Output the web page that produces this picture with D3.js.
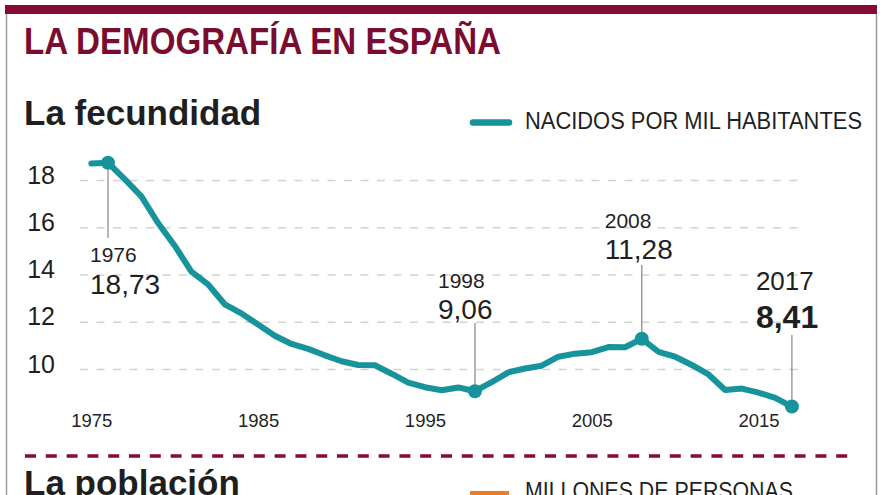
<!DOCTYPE html>
<html>
<head>
<meta charset="utf-8">
<script src="https://cdn.jsdelivr.net/npm/d3@7"></script>
<style>
  html, body { margin: 0; padding: 0; background: #fff; }
  svg { display: block; font-family: "Liberation Sans", Arial, Helvetica, sans-serif; }
</style>
</head>
<body>
<svg id="chart" width="880" height="495"></svg>
<script>
// ---- data ----
const years = d3.range(1975, 2018);
const birthRate = [18.70, 18.73, 18.04, 17.31, 16.18, 15.22, 14.12, 13.58, 12.74, 12.35,
                   11.88, 11.41, 11.06, 10.85, 10.58, 10.33, 10.17, 10.16, 9.80, 9.42,
                   9.23, 9.10, 9.22, 9.06, 9.44, 9.86, 10.02, 10.14, 10.52, 10.65,
                   10.71, 10.93, 10.92, 11.28, 10.73, 10.52, 10.17, 9.77, 9.11, 9.17,
                   9.00, 8.78, 8.41];
const yTicks = [10, 12, 14, 16, 18];
const xTicks = [1975, 1985, 1995, 2005, 2015];
const highlightYears = [1976, 1998, 2008, 2017];
const title = "LA DEMOGRAFÍA EN ESPAÑA";
const subtitle1 = "La fecundidad";
const subtitle2 = "La población";
const legend1 = "NACIDOS POR MIL HABITANTES";
const legend2 = "MILLONES DE PERSONAS";

// ---- styles ----
const TEAL = "#17949b";
const MAROON = "#850a35";
const TEXT = "#1f1f1f";

const svg = d3.select("#chart");
const data = years.map((yr, i) => ({ year: yr, value: birthRate[i] }));

const x = d3.scaleLinear().domain([1976, 2017]).range([108, 791.9]);
const y = d3.scaleLinear().domain([10, 18]).range([369, 180]);

// frame
svg.append("rect").attr("x", 5).attr("y", 5).attr("width", 872).attr("height", 9).attr("fill", MAROON);
svg.append("line").attr("x1", 6.5).attr("x2", 6.5).attr("y1", 14).attr("y2", 495)
   .attr("stroke", "#9a9a9a").attr("stroke-width", 1.5);
svg.append("line").attr("x1", 876.5).attr("x2", 876.5).attr("y1", 14).attr("y2", 495)
   .attr("stroke", "#9a9a9a").attr("stroke-width", 1.5);

// title
svg.append("text").attr("x", 24).attr("y", 54)
   .attr("font-size", 36).attr("font-weight", "bold").attr("fill", "#7a0c30")
   .attr("textLength", 477).attr("lengthAdjust", "spacingAndGlyphs")
   .text(title);

svg.append("text").attr("x", 24).attr("y", 125)
   .attr("font-size", 35).attr("font-weight", "bold").attr("fill", TEXT)
   .text(subtitle1);

// legend
svg.append("line").attr("x1", 473).attr("x2", 509).attr("y1", 122.5).attr("y2", 122.5)
   .attr("stroke", TEAL).attr("stroke-width", 6.5).attr("stroke-linecap", "round");
svg.append("text").attr("x", 525).attr("y", 129)
   .attr("font-size", 23).attr("fill", TEXT)
   .attr("textLength", 337).attr("lengthAdjust", "spacingAndGlyphs")
   .text(legend1);

// y axis with gridlines
const yAxis = svg.append("g").attr("transform", "translate(80,0)")
  .call(d3.axisLeft(y).tickValues(yTicks).tickSize(-725).tickPadding(25).tickFormat(d3.format("d")));
yAxis.select(".domain").remove();
yAxis.selectAll(".tick line")
  .attr("stroke", "#d2d2d2").attr("stroke-width", 1.6).attr("stroke-dasharray", "8,8.5");
yAxis.selectAll(".tick text")
  .attr("font-size", 25).attr("fill", TEXT).attr("dy", 3)
  .attr("font-family", "'Liberation Sans', Arial, sans-serif");

// x axis
const xAxis = svg.append("g").attr("transform", "translate(0,405)")
  .call(d3.axisBottom(x).tickValues(xTicks).tickSize(0).tickPadding(9).tickFormat(d3.format("d")));
xAxis.select(".domain").remove();
xAxis.selectAll(".tick text")
  .attr("font-size", 18.5).attr("fill", TEXT)
  .attr("font-family", "'Liberation Sans', Arial, sans-serif");

// line
const line = d3.line().x(d => x(d.year)).y(d => y(d.value));
svg.append("path").datum(data).attr("d", line)
   .attr("fill", "none").attr("stroke", TEAL).attr("stroke-width", 6)
   .attr("stroke-linejoin", "round").attr("stroke-linecap", "round");

// annotations (layout only)
const annoLayout = {
  1976: { dx: -18, yearY: 262, valY: 294, lineTop: null, lineBot: 238, yearSize: 21, valSize: 28, bold: false },
  1998: { dx: -37, yearY: 288, valY: 319, lineTop: 323, lineBot: null, yearSize: 21, valSize: 28, bold: false },
  2008: { dx: -37, yearY: 228, valY: 259, lineTop: 265, lineBot: null, yearSize: 21, valSize: 28, bold: false },
  2017: { dx: -36, yearY: 290, valY: 328, lineTop: 335, lineBot: null, yearSize: 26, valSize: 32, bold: true }
};
const fmt = v => d3.format(".2f")(v).replace(".", ",");

highlightYears.forEach(yr => {
  const d = data.find(e => e.year === yr);
  const L = annoLayout[yr];
  const px = x(d.year), py = y(d.value);
  const y1 = L.lineTop !== null ? L.lineTop : py;
  const y2 = L.lineBot !== null ? L.lineBot : py;
  svg.append("line").attr("x1", px).attr("x2", px).attr("y1", y1).attr("y2", y2)
     .attr("stroke", "#858585").attr("stroke-width", 1.2);
  svg.append("circle").attr("cx", px).attr("cy", py).attr("r", 7).attr("fill", TEAL);
  svg.append("text").attr("x", px + L.dx).attr("y", L.yearY)
     .attr("font-size", L.yearSize).attr("fill", TEXT).text(d.year);
  svg.append("text").attr("x", px + L.dx).attr("y", L.valY)
     .attr("font-size", L.valSize).attr("fill", TEXT)
     .attr("font-weight", L.bold ? "bold" : "normal").text(fmt(d.value));
});

// separator
svg.append("line").attr("x1", 25).attr("x2", 856).attr("y1", 456).attr("y2", 456)
   .attr("stroke", MAROON).attr("stroke-width", 3.5).attr("stroke-dasharray", "11,9.8");

// second section header (cut off at the bottom edge as in the original)
svg.append("text").attr("x", 24).attr("y", 495)
   .attr("font-size", 35).attr("font-weight", "bold").attr("fill", TEXT)
   .text(subtitle2);
svg.append("rect").attr("x", 470).attr("y", 491).attr("width", 39).attr("height", 20).attr("fill", "#f07c22");
svg.append("text").attr("x", 525).attr("y", 499)
   .attr("font-size", 23).attr("fill", TEXT)
   .attr("textLength", 268).attr("lengthAdjust", "spacingAndGlyphs")
   .text(legend2);
</script>
</body>
</html>
